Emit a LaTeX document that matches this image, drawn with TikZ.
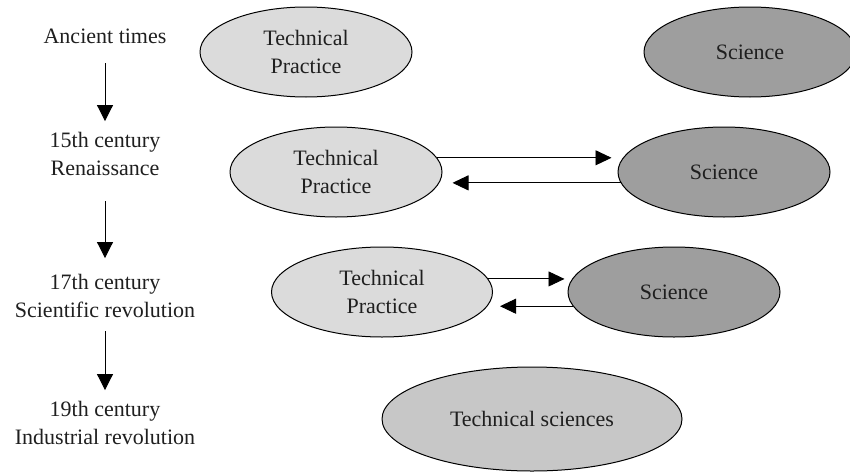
\documentclass[tikz,border=0pt]{standalone}
\usepackage{fontspec}
\setmainfont{Liberation Serif}
\usetikzlibrary{shapes.geometric,arrows.meta}
\definecolor{practicefill}{gray}{0.86}
\definecolor{sciencefill}{gray}{0.62}
\definecolor{techscifill}{gray}{0.78}
\definecolor{inktext}{gray}{0.12}
\begin{document}
\begin{tikzpicture}[x=1pt,y=-1pt,
  era/.style={align=center,font=\fontsize{22}{28}\selectfont,inner sep=0pt,text=inktext},
  blob/.style={ellipse,draw=black,line width=1pt,inner sep=0pt,align=center,
    text=inktext,font=\fontsize{22}{28}\selectfont},
  practice/.style={blob,fill=practicefill,minimum width=212pt,minimum height=90pt},
  science/.style={blob,fill=sciencefill,minimum width=212pt,minimum height=90pt},
  techsci/.style={blob,fill=techscifill,minimum width=300pt,minimum height=104pt},
  arr/.style={line width=0.9pt,-{Triangle[length=16pt,width=16pt]}},
  harr/.style={line width=0.9pt,-{Triangle[length=16pt,width=15pt]}}
]
\useasboundingbox (0,0) rectangle (850,471);

% timeline of eras
\node[era] (t1) at (105,36) {Ancient times};
\node[era] (t2) at (105,154) {15th century\\Renaissance};
\node[era] (t3) at (105,296) {17th century\\Scientific revolution};
\node[era] (t4) at (105,423) {19th century\\Industrial revolution};

\draw[arr,shorten <=19.5pt,shorten >=11pt] (t1.south) -- (t2.north);
\draw[arr,shorten <=25.5pt,shorten >=16pt] (t2.south) -- (t3.north);
\draw[arr,shorten <=13.5pt,shorten >=11pt] (t3.south) -- (t4.north);

% ancient times
\node[practice] (p1) at (306,52) {Technical\\Practice};
\node[science] (s1) at (750,52) {Science};

% renaissance
\node[practice] (p2) at (336,172) {Technical\\Practice};
\node[science] (s2) at (724,172) {Science};
\draw[harr,shorten >=6pt] (p2.8) -- (p2.8 -| s2.west);
\draw[harr,shorten >=10pt] (s2.186) -- (s2.186 -| p2.east);

% scientific revolution
\node[practice,minimum width=221pt] (p3) at (382,292) {Technical\\Practice};
\node[science] (s3) at (674,292) {Science};
\draw[harr,shorten >=3pt] (p3.7) -- (p3.7 -| s3.west);
\draw[harr,shorten >=7pt] (s3.188) -- (s3.188 -| p3.east);

% industrial revolution
\node[techsci] (ts) at (532,419) {Technical sciences};
\end{tikzpicture}
\end{document}
